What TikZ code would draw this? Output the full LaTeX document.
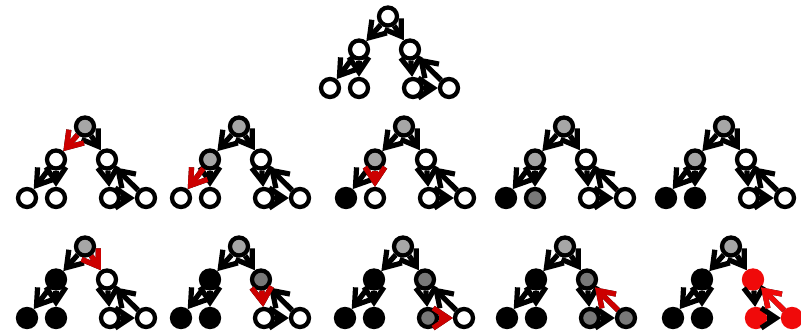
\documentclass[tikz,border=0pt]{standalone}
\usetikzlibrary{arrows.meta}
\definecolor{lgray}{RGB}{166,166,166}
\definecolor{dgray}{RGB}{120,120,120}
\definecolor{ered}{RGB}{204,0,0}
\definecolor{nred}{RGB}{240,10,10}
\tikzset{
  vtx/.style={circle,inner sep=0pt,minimum size=18pt,line width=4.3pt,draw=black},
  wh/.style={vtx,fill=white},
  gr/.style={vtx,fill=lgray},
  dg/.style={vtx,fill=dgray},
  bk/.style={vtx,fill=black},
  rd/.style={vtx,fill=nred,draw=nred},
  edge/.style={line width=5.2pt,-{Straight Barb[length=15pt,width=20pt]}},
  hot/.style={edge,draw=ered},
  hotb/.style={edge,draw=nred},
}
\newcommand\dfspanel[9]{%
  \begin{scope}[shift={(#2)}]
    \node[#3] (#1R) at (0,0) {};
    \node[#4] (#1A) at (-29,33) {};
    \node[#5] (#1B) at (22,33) {};
    \node[#6] (#1a) at (-58,71.5) {};
    \node[#7] (#1c) at (-29,71.5) {};
    \node[#8] (#1b) at (25,71.5) {};
    \node[#9] (#1d) at (61,71.5) {};
    \draw[edge] (#1R) -- (#1A);
    \draw[edge] (#1R) -- (#1B);
    \draw[edge] (#1A) -- (#1a);
    \draw[edge] (#1A) -- (#1c);
    \draw[edge] (#1B) -- (#1b);
    \draw[edge] (#1b) -- (#1d);
    \draw[edge] (#1d) -- (#1B);
  \end{scope}}
\begin{document}
\begin{tikzpicture}[x=1pt,y=-1pt]
\useasboundingbox (0,0) rectangle (801,334);
% top
\dfspanel{t}{388,16.5}{wh}{wh}{wh}{wh}{wh}{wh}{wh}
% row 2
\dfspanel{p}{85,126.5}{gr}{wh}{wh}{wh}{wh}{wh}{wh}
\draw[hot] (pR) -- (pA);
\dfspanel{q}{239,126.5}{gr}{gr}{wh}{wh}{wh}{wh}{wh}
\draw[hot] (qA) -- (qa);
\dfspanel{r}{404,126.5}{gr}{gr}{wh}{bk}{wh}{wh}{wh}
\draw[hot] (rA) -- (rc);
\dfspanel{s}{564,126.5}{gr}{gr}{wh}{bk}{dg}{wh}{wh}
\dfspanel{u}{724,126.5}{gr}{gr}{wh}{bk}{bk}{wh}{wh}
% row 3
\dfspanel{v}{85,246.5}{gr}{bk}{wh}{bk}{bk}{wh}{wh}
\draw[hot] (vR) -- (vB);
\dfspanel{w}{239,246.5}{gr}{bk}{dg}{bk}{bk}{wh}{wh}
\draw[hot] (wB) -- (wb);
\dfspanel{x}{403,246.5}{gr}{bk}{dg}{bk}{bk}{dg}{wh}
\draw[hot] (xb) -- (xd);
\dfspanel{y}{565,246.5}{gr}{bk}{dg}{bk}{bk}{dg}{dg}
\draw[hot] (yd) -- (yB);
\dfspanel{z}{731,246.5}{gr}{bk}{rd}{bk}{bk}{rd}{rd}
\draw[hotb] (zd) -- (zB);
\end{tikzpicture}
\end{document}
